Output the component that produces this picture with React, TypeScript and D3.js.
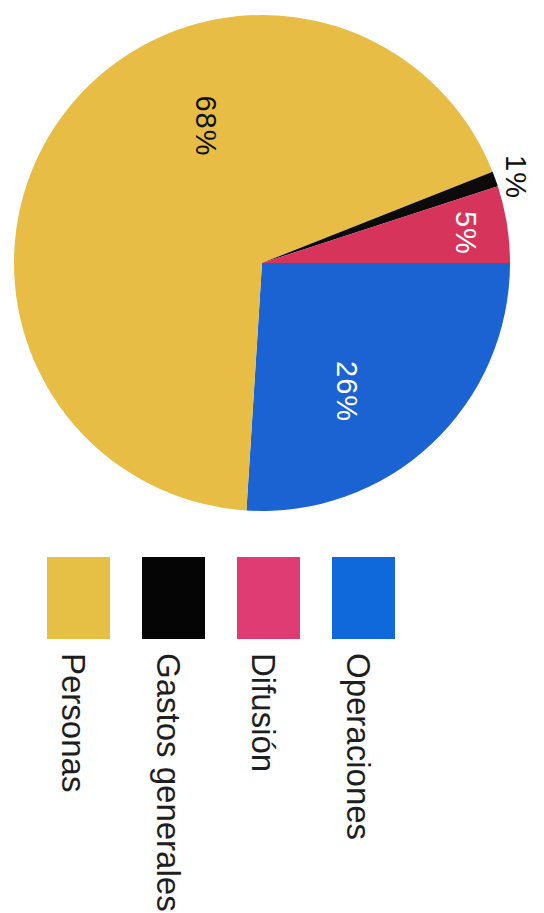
import React from "react";
import * as d3 from "d3";

// Data (clockwise from 3 o'clock)
const categories = ["Operaciones", "Personas", "Gastos generales", "Difusión"];
const values = [26, 68, 1, 5];
const labels = ["26%", "68%", "1%", "5%"];

// Legend order
const legendCategories = ["Personas", "Gastos generales", "Difusión", "Operaciones"];

const pieColors: Record<string, string> = {
  Operaciones: "#1B63D3",
  Personas: "#E8BD45",
  "Gastos generales": "#0B0B0B",
  Difusión: "#D7345C",
};
const legendColors: Record<string, string> = {
  Operaciones: "#1069DA",
  Personas: "#E6BF45",
  "Gastos generales": "#050505",
  Difusión: "#DF3C74",
};
const labelColors = ["#ffffff", "#111111", "#111111", "#ffffff"];
// label placement (degrees clockwise from 12 o'clock, radius)
const labelAngles = [146.6, 337.8, 71.3, 81.6];
const labelRadii = [154, 148, 268, 206];

const W = 544;
const H = 913;
const cx = 262;
const cy = 263;
const R = 248;

export default function App() {
  const pie = d3
    .pie<number>()
    .sort(null)
    .value((d) => d)
    .startAngle(Math.PI / 2)
    .endAngle(Math.PI / 2 + 2 * Math.PI);
  const arcs = pie(values);
  const arc = d3.arc<d3.PieArcDatum<number>>().innerRadius(0).outerRadius(R);

  const legendX = d3.scaleBand<string>().domain(legendCategories).range([47, 47 + 95 * 4]).paddingInner(0);

  const font = "'Liberation Sans', Arial, Helvetica, sans-serif";

  return (
    <svg
      width={W}
      height={H}
      style={{ position: "absolute", left: 0, top: 0, background: "#ffffff" }}
    >
      <rect width={W} height={H} fill="#ffffff" />
      <g transform={`translate(${cx},${cy})`}>
        {arcs.map((a, i) => (
          <path key={i} d={arc(a) || ""} fill={pieColors[categories[i]]} />
        ))}
        {labels.map((t, i) => {
          const ang = (labelAngles[i] * Math.PI) / 180;
          const x = labelRadii[i] * Math.sin(ang);
          const y = -labelRadii[i] * Math.cos(ang);
          return (
            <text
              key={i}
              transform={`translate(${x},${y}) rotate(90)`}
              textAnchor="middle"
              dominantBaseline="central"
              fontFamily={font}
              fontSize={29}
              letterSpacing={1}
              fill={labelColors[i]}
            >
              {t}
            </text>
          );
        })}
      </g>
      <g>
        {legendCategories.map((c) => {
          const x = legendX(c) as number;
          return (
            <g key={c}>
              <rect x={x} y={557} width={63} height={82} fill={legendColors[c]} />
              <text
                transform={`translate(${x + 15},653) rotate(90)`}
                textAnchor="start"
                fontFamily={font}
                fontSize={33}
                fill="#1e1e1e"
              >
                {c}
              </text>
            </g>
          );
        })}
      </g>
    </svg>
  );
}
